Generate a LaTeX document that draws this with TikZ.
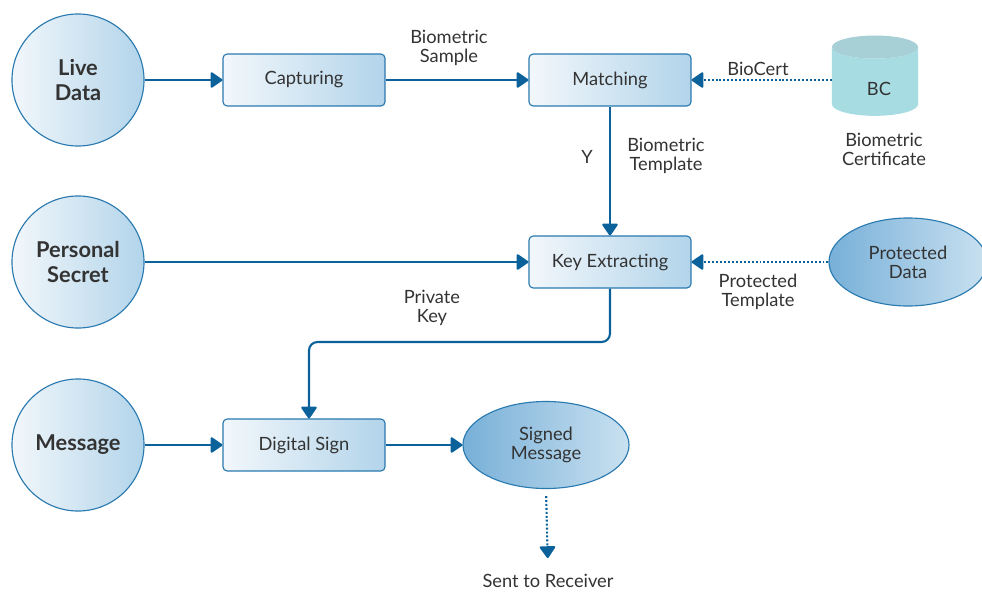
\documentclass[tikz,border=0pt]{standalone}
\usepackage{fontspec}
\setmainfont{Lato}
\usepackage{tikz}
\usetikzlibrary{arrows.meta,positioning,shapes.geometric}
\definecolor{flowblue}{HTML}{0B6199}
\definecolor{edgeblue}{HTML}{2A7AB0}
\definecolor{paleblue}{HTML}{F2F7FB}
\definecolor{midblue}{HTML}{B2D4EA}
\definecolor{deepblue}{HTML}{78B0D8}
\definecolor{txtgray}{HTML}{333333}
\definecolor{tealbody}{HTML}{A6DCE2}
\definecolor{tealtop}{HTML}{A6CFD6}
\tikzset{stepbox/.style={draw=edgeblue,line width=0.8pt,rounded corners=3pt,left color=paleblue,right color=midblue,minimum width=4.05cm,minimum height=1.3cm,text=txtgray,font=\fontsize{13}{15}\selectfont}}
\tikzset{src/.style={draw=edgeblue,circle,line width=0.8pt,left color=paleblue,right color=midblue,minimum size=3.3cm,inner sep=0pt,align=center,text=txtgray,font=\bfseries\fontsize{15.5}{17.5}\selectfont}}
\tikzset{blob/.style={draw=edgeblue,ellipse,line width=0.8pt,left color=deepblue,right color=midblue!70!white,inner sep=0pt,align=center,text=txtgray,font=\fontsize{13}{13.5}\selectfont}}
\tikzset{lbl/.style={align=center,text=txtgray,font=\fontsize{13}{13.5}\selectfont}}
\tikzset{flow/.style={color=flowblue,line width=1.5pt,-{Triangle[width=12pt,length=9pt,round]}}}
\tikzset{dotflow/.style={flow,dash pattern=on 1.4pt off 1.4pt}}

\begin{document}
\begin{tikzpicture}[x=0.025cm,y=-0.025cm]
\useasboundingbox (0,0) rectangle (982,592);
% inputs
\node[src] (live) at (78,80) {Live\\Data};
\node[src] (secret) at (78,262) {Personal\\Secret};
\node[src] (msg) at (78,445) {Message};
% steps
\node[stepbox] (capt) at (304,80) {Capturing};
\node[stepbox] (match) at (610,80) {Matching};
\node[stepbox] (keyx) at (610,262) {Key Extracting};
\node[stepbox] (sign) at (304,445) {Digital Sign};
\node[cylinder,shape border rotate=90,inner sep=20pt,aspect=0.41,cylinder uses custom fill,cylinder body fill=tealbody,cylinder end fill=tealtop,minimum width=2.15cm,minimum height=2cm] (bc) at (875,87) {};
\node[lbl] (bctext) at (879,89) {BC};
\node[blob,minimum width=3.95cm,minimum height=2.2cm] (pdata) at (908,262) {Protected\\Data};
\node[blob,minimum width=4.15cm,minimum height=2.175cm] (smsg) at (546,445) {Signed\\Message};
% labels
\node[lbl] (bsample) at (449,48) {Biometric\\Sample};
\node[lbl] (biocert) at (758,69) {BioCert};
\node[lbl] (yes) at (587,157) {Y};
\node[lbl] (btempl) at (666,156) {Biometric\\Template};
\node[lbl] (bcert) at (884,149) {Biometric\\Certificate};
\node[lbl] (ptempl) at (758,292) {Protected\\Template};
\node[lbl] (pkey) at (432,308) {Private\\Key};
\node[lbl] (recv) at (548,581) {Sent to Receiver};
\coordinate (kdown) at (610,342);
\coordinate (kleft) at (309,342);
% arrows
\path[flow] (live) edge (capt) (capt) edge (match) (match) edge (keyx)
  (secret) edge (keyx) (msg) edge (sign) (sign) edge (smsg);
\path[dotflow] (bc.west |- match.east) edge (match.east)
  (pdata.west) edge (keyx.east);
\path[dotflow,shorten <=5pt,shorten >=8pt] (smsg.south) edge (recv.north);
\draw[flow,rounded corners=6pt] (keyx.south) -- (kdown) -- (kleft) -- (kleft |- sign.north);
\end{tikzpicture}
\end{document}
